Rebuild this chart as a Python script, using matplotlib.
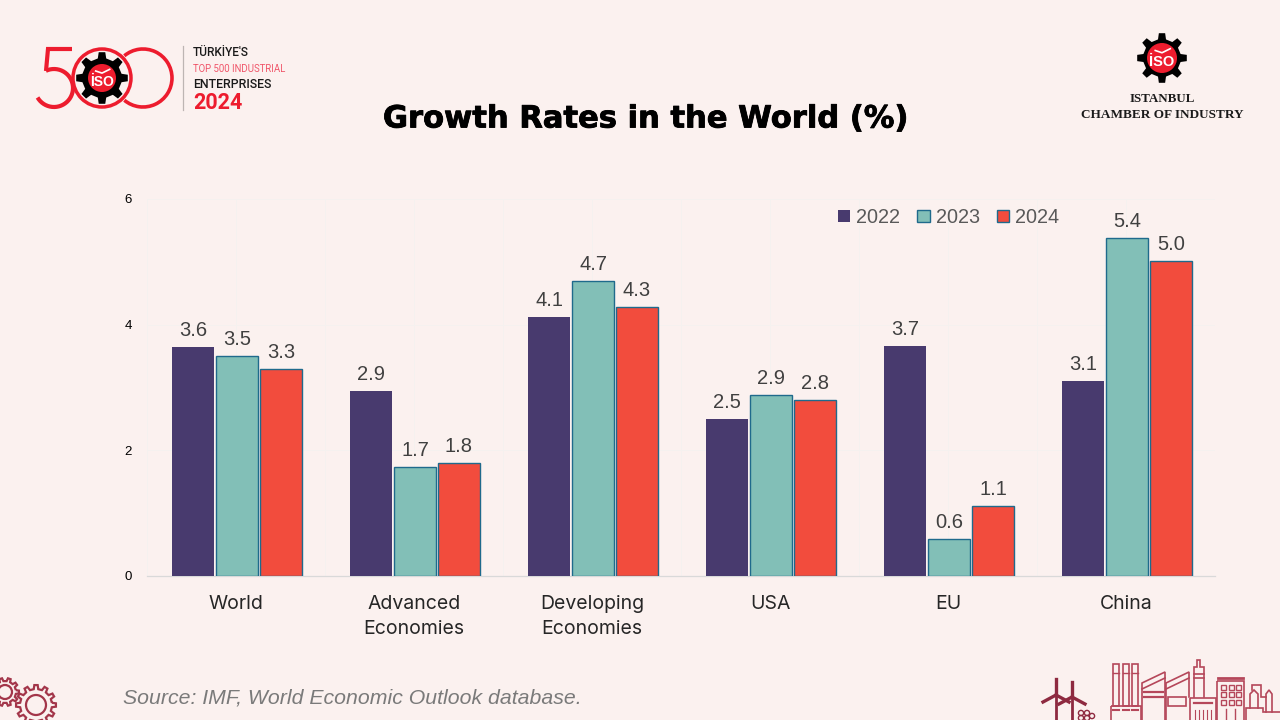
import numpy as np
import matplotlib
matplotlib.use('Agg')
import matplotlib.pyplot as plt
import matplotlib.patheffects as pe
from matplotlib.patches import Polygon, Circle, Arc, Rectangle

categories = ['World', 'Advanced\nEconomies', 'Developing\nEconomies', 'USA', 'EU', 'China']
years = ['2022', '2023', '2024']
values_2022 = [3.65, 2.95, 4.12, 2.5, 3.66, 3.11]
values_2023 = [3.5, 1.74, 4.7, 2.88, 0.59, 5.38]
values_2024 = [3.3, 1.8, 4.28, 2.8, 1.11, 5.02]
labels_2022 = ['3.6', '2.9', '4.1', '2.5', '3.7', '3.1']
labels_2023 = ['3.5', '1.7', '4.7', '2.9', '0.6', '5.4']
labels_2024 = ['3.3', '1.8', '4.3', '2.8', '1.1', '5.0']
y_ticks = [0, 2, 4, 6]

BG = '#FBF1EF'
PURPLE = '#483A6E'
TEAL = '#82BFB7'
RED = '#F24C3D'
EDGE = '#1F6A8C'
LOGO_RED = '#ED1C2E'
DARK_RED = '#A3364A'
LINE = '#B5475A'
WIND = '#8E2A40'


def gear_points(cx, cy, r_out, r_in, teeth):
    # contorno de rueda dentada, en pixeles
    pts = []
    step = 2 * np.pi / teeth
    for i in range(teeth):
        a = i * step
        for da, r in [(-0.27, r_in), (-0.16, r_out), (0.16, r_out), (0.27, r_in)]:
            t = a + da * step
            pts.append((cx + r * np.cos(t), cy + r * np.sin(t)))
    return pts


def iso_badge(ov, cx, cy, r_out, r_in, r_disc, size):
    ov.add_patch(Polygon(gear_points(cx, cy, r_out, r_in, 8), closed=True, fc='black', ec='none', zorder=3))
    ov.add_patch(Circle((cx, cy), r_disc, fc=LOGO_RED, ec='none', zorder=7))
    ov.text(cx, cy + r_disc * 0.3, 'İSO', color='white', fontsize=size, fontweight='bold',
            family='Liberation Sans', ha='center', va='center', zorder=8)
    # ala blanca del logo
    ov.plot([cx - r_disc * 0.45, cx, cx + r_disc * 0.55], [cy - r_disc * 0.5, cy - r_disc * 0.35, cy - r_disc * 0.62],
            color='white', lw=1.2, zorder=8)


def outline(ov, xs, ys, lw=1.2, color=LINE):
    ov.plot(xs, ys, color=color, lw=lw, solid_joinstyle='miter')


fig = plt.figure(figsize=(12.8, 7.2), dpi=100, facecolor=BG)

# capa en pixeles para logos y textos de la diapositiva
ov = fig.add_axes([0, 0, 1, 1], zorder=0)
ov.set_xlim(0, 1280)
ov.set_ylim(720, 0)
ov.axis('off')

ax = fig.add_axes([147 / 1280, (720 - 576) / 720, 1068 / 1280, 377 / 720], zorder=1)
ax.patch.set_alpha(0)

x = np.arange(len(categories))
bar_w = 42 / 178
gap = 44 / 178
off = 1 / 178
b1 = ax.bar(x - gap + off, values_2022, bar_w, color=PURPLE, label=years[0], zorder=3)
b2 = ax.bar(x + off, values_2023, bar_w, color=TEAL, edgecolor=EDGE, linewidth=1, label=years[1], zorder=3)
b3 = ax.bar(x + gap + off, values_2024, bar_w, color=RED, edgecolor=EDGE, linewidth=1, label=years[2], zorder=3)

for bars, labels in [(b1, labels_2022), (b2, labels_2023), (b3, labels_2024)]:
    ax.bar_label(bars, labels=labels, padding=5, fontsize=14.5, color='#404040', family='Liberation Sans')

ax.set_xlim(-0.5, 5.5)
ax.set_ylim(0, 6)
ax.set_yticks(y_ticks)
ax.set_xticks(x)
ax.set_xticklabels(categories, fontsize=14, color='#262626', family='Inter', linespacing=1.5)
ax.set_xticks(np.arange(-0.5, 6, 0.5), minor=True)
ax.tick_params(axis='x', which='both', length=0, pad=14)
ax.tick_params(axis='y', length=0, pad=11, labelsize=9.5, labelcolor='black')
for lab in ax.get_yticklabels():
    lab.set_family('Liberation Sans')
ax.grid(True, which='both', axis='x', color='#F5F1F0', linewidth=0.7, zorder=0)
ax.grid(True, which='major', axis='y', color='#F5F1F0', linewidth=0.7, zorder=0)
for s in ['top', 'right', 'left']:
    ax.spines[s].set_visible(False)
ax.spines['bottom'].set_color('#D9D9D9')
ax.spines['bottom'].set_linewidth(0.9)

ax.legend(ncol=3, loc='upper left', bbox_to_anchor=(0.6415, 0.992), frameon=False,
          labelcolor='#595959', prop={'family': 'Liberation Sans', 'size': 14.3},
          handlelength=0.62, handleheight=0.62, handletextpad=0.3, columnspacing=0.85,
          borderpad=0, borderaxespad=0.3)

# titulo y fuente
ov.text(645, 119, 'Growth Rates in the World (%)', fontsize=22, fontweight='bold', color='black',
        family='DejaVu Sans', ha='center', va='center',
        path_effects=[pe.withStroke(linewidth=0.6, foreground='black')])
ov.text(123, 698, 'Source: IMF, World Economic Outlook database.', fontsize=15.3, style='italic',
        color='#7A7A7A', family='Liberation Sans', ha='left', va='center')

# logo 500 izquierda
t5 = np.radians(np.linspace(-115, 150, 40))
ov.plot(54 + 19 * np.cos(t5), 88 + 19 * np.sin(t5), color=LOGO_RED, lw=3, solid_capstyle='butt')
ov.plot([72, 48, 46], [49, 49, 71], color=LOGO_RED, lw=3, solid_joinstyle='miter', solid_capstyle='butt')
ov.add_patch(Circle((102, 78), 29, fc='none', ec=LOGO_RED, lw=2.5, zorder=2))
ov.add_patch(Arc((143, 78), 58, 58, theta1=-130, theta2=130, ec=LOGO_RED, lw=2.6, zorder=6))
iso_badge(ov, 102, 78, 26, 20, 14, 10)
ov.plot([183, 183], [46, 110], color='#BDB5B3', lw=0.9)
ov.text(193, 53, "TÜRKİYE'S", fontsize=8.6, color='#1A1A1A', family='Roboto', fontweight='medium', va='center')
ov.text(193, 69, 'TOP 500 INDUSTRIAL', fontsize=6.9, color='#F0566A', family='Roboto', va='center')
ov.text(193, 85, 'ENTERPRISES', fontsize=8.9, color='#1A1A1A', family='Roboto', fontweight='medium', va='center')
ov.text(193, 103, '2024', fontsize=15.5, color=LOGO_RED, fontweight='bold', family='Roboto', va='center')

# logo ISO derecha
iso_badge(ov, 1162, 58, 25, 19, 15, 10.5)
ov.text(1162, 99, 'ISTANBUL', fontsize=9.4, fontweight='bold', family='Liberation Serif', color='#1A1A1A',
        ha='center', va='center')
ov.text(1162, 115, 'CHAMBER OF INDUSTRY', fontsize=9.5, fontweight='bold', family='Liberation Serif',
        color='#1A1A1A', ha='center', va='center')

# engranajes abajo izquierda
for cx, cy, ro, ri, rc, n in [(5, 692, 14, 11, 7, 10), (36, 705, 20, 16, 10, 12)]:
    ov.add_patch(Polygon(gear_points(cx, cy, ro, ri, n), closed=True, fc='none', ec=DARK_RED, lw=1.6))
    ov.add_patch(Circle((cx, cy), rc, fc='none', ec=DARK_RED, lw=1.6))

# chimeneas
for hx in [1116, 1125.5, 1134.5]:
    ov.add_patch(Rectangle((hx - 3, 664), 6, 42, fc='none', ec=LINE, lw=1.2))
    ov.plot([hx - 3, hx + 3], [673, 673], color=LINE, lw=1)
ov.add_patch(Rectangle((1111, 706), 30, 16, fc='none', ec=LINE, lw=1.2))
for hx in [1116, 1125.5, 1134.5]:
    ov.plot([hx - 3, hx + 3], [710, 710], color=LINE, lw=1.5)

# naves con techo inclinado
outline(ov, [1142, 1142, 1165, 1165], [722, 683, 672, 722])
outline(ov, [1142, 1165], [689, 678])
outline(ov, [1144, 1163], [692, 692], lw=1.6)
outline(ov, [1144, 1163], [697, 697], lw=1.6)
outline(ov, [1166, 1166, 1189, 1189], [722, 683, 672, 697])
outline(ov, [1166, 1189], [689, 678])
ov.add_patch(Rectangle((1168, 697), 18, 9, fc='none', ec=LINE, lw=1.2))

# torre y base
outline(ov, [1194, 1194, 1197, 1197, 1200, 1200, 1204, 1204], [697, 667, 667, 660, 660, 667, 667, 697])
outline(ov, [1194, 1204], [674, 674])
outline(ov, [1194, 1204], [678, 678])
ov.add_patch(Rectangle((1190, 698), 26, 24, fc='none', ec=LINE, lw=1.2))
outline(ov, [1194, 1212], [703, 703], lw=1.6)
for dx in [1195, 1199, 1203, 1207, 1211]:
    outline(ov, [dx, dx], [710, 720], lw=0.8)

# edificio con ventanas
ov.add_patch(Rectangle((1217, 681), 27, 41, fc='none', ec=LINE, lw=1.2))
outline(ov, [1218, 1243], [678, 678], lw=2)
for wx in [1223, 1231, 1238]:
    for wy in [687, 694, 702]:
        ov.add_patch(Rectangle((wx - 2.5, wy - 2.5), 5, 5, fc='none', ec=LINE, lw=1))
outline(ov, [1226, 1226], [709, 720], lw=1)
outline(ov, [1235, 1235], [709, 720], lw=1)

# planta quimica
outline(ov, [1246, 1246, 1263, 1263, 1280], [722, 708, 708, 712, 712])
outline(ov, [1250, 1250, 1254, 1258, 1258], [708, 694, 690, 694, 708])
outline(ov, [1266, 1266, 1269, 1272, 1272], [712, 694, 690, 694, 712])
outline(ov, [1252, 1252, 1261, 1261, 1266], [690, 685, 685, 697, 697])

# aerogeneradores
for tx, ty, top in [(1056, 695, 679), (1072, 697, 682)]:
    ov.plot([tx, tx], [ty, 722], color=WIND, lw=2)
    ov.plot([tx, tx], [ty, top], color=WIND, lw=2.4)
    ov.plot([tx, tx - 13], [ty, ty + 7], color=WIND, lw=2.4)
    ov.plot([tx, tx + 13], [ty, ty + 7], color=WIND, lw=2.4)
for sx, sy in [(1081, 713), (1087, 713), (1081, 718), (1087, 718), (1092, 716)]:
    ov.add_patch(Circle((sx, sy), 2.6, fc='none', ec=WIND, lw=1))

fig.savefig('out.png', dpi=100, facecolor=BG)
